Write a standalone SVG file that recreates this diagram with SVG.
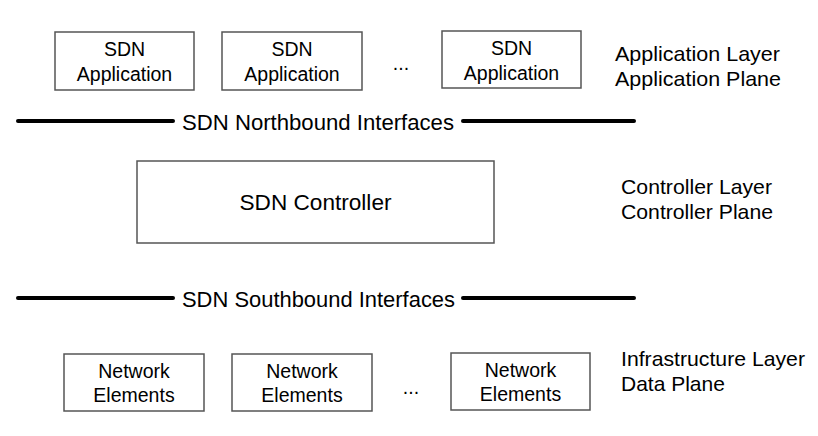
<svg xmlns="http://www.w3.org/2000/svg" width="818" height="436" viewBox="0 0 818 436">
<style>
.box{fill:#fff;stroke:#555;stroke-width:1.5}
.t{font-family:"Liberation Sans",Arial,sans-serif;fill:#000}
.bl{font-size:19.5px;text-anchor:middle}
.lay{font-size:21px}
.big{font-size:22px}
.bar{stroke:#000;stroke-width:4;stroke-linecap:round}
</style>
<rect width="818" height="436" fill="#fff"/>
<g id="app1"><rect class="box" x="55" y="32" width="139" height="58"/><text class="t bl" x="124.5" y="56">SDN</text><text class="t bl" x="124.5" y="81">Application</text></g>
<g id="app2"><rect class="box" x="222" y="32" width="140" height="58"/><text class="t bl" x="292" y="56">SDN</text><text class="t bl" x="292" y="81">Application</text></g>
<text class="t bl" x="401" y="70">...</text>
<g id="app3"><rect class="box" x="442" y="31" width="139" height="57"/><text class="t bl" x="511.5" y="55">SDN</text><text class="t bl" x="511.5" y="80">Application</text></g>
<g id="appLabel"><text class="t lay" x="615" y="61" textLength="165" lengthAdjust="spacingAndGlyphs">Application Layer</text><text class="t lay" x="615" y="86" textLength="166" lengthAdjust="spacingAndGlyphs">Application Plane</text></g>
<g id="connectors">
<line class="bar" x1="18" y1="121" x2="173" y2="121"/>
<line class="bar" x1="463" y1="121" x2="634" y2="121"/>
<line class="bar" x1="18" y1="298" x2="173" y2="298"/>
<line class="bar" x1="463" y1="298" x2="634" y2="298"/>
</g>
<text class="t big" x="182" y="130" textLength="272" lengthAdjust="spacingAndGlyphs">SDN Northbound Interfaces</text>
<g id="controller"><rect class="box" x="137" y="161" width="357" height="82"/><text class="t big" x="315.5" y="210" text-anchor="middle" textLength="152" lengthAdjust="spacingAndGlyphs">SDN Controller</text></g>
<g id="ctrlLabel"><text class="t lay" x="621" y="194" textLength="151" lengthAdjust="spacingAndGlyphs">Controller Layer</text><text class="t lay" x="621" y="219" textLength="152" lengthAdjust="spacingAndGlyphs">Controller Plane</text></g>
<text class="t big" x="182" y="307" textLength="273" lengthAdjust="spacingAndGlyphs">SDN Southbound Interfaces</text>
<g id="ne1"><rect class="box" x="64" y="354" width="140" height="57"/><text class="t bl" x="134" y="378">Network</text><text class="t bl" x="134" y="402">Elements</text></g>
<g id="ne2"><rect class="box" x="232" y="354" width="140" height="57"/><text class="t bl" x="302" y="378">Network</text><text class="t bl" x="302" y="402">Elements</text></g>
<text class="t bl" x="411" y="394">...</text>
<g id="ne3"><rect class="box" x="451" y="353" width="139" height="57"/><text class="t bl" x="520.5" y="377">Network</text><text class="t bl" x="520.5" y="401">Elements</text></g>
<g id="infraLabel"><text class="t lay" x="621" y="366" textLength="184" lengthAdjust="spacingAndGlyphs">Infrastructure Layer</text><text class="t lay" x="621" y="391">Data Plane</text></g>
</svg>
